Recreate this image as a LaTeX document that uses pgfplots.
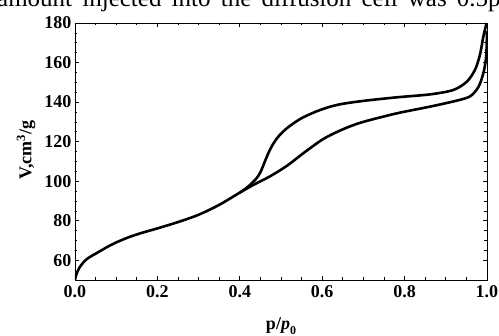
\documentclass[border=0pt]{standalone}
\usepackage{fontspec}
\setmainfont{Liberation Serif}
\usepackage{pgfplots}
\pgfplotsset{compat=1.18}
\begin{document}
\begin{tikzpicture}
\path[use as bounding box] (-75pt,-56pt) rectangle (424pt,280pt);
\clip (-75pt,-56pt) rectangle (424pt,280pt);
\node[anchor=base west, inner sep=0pt, font=\fontsize{25}{30}\selectfont] at (-78pt,273pt)
  {\makebox[491pt][s]{amount injected into the diffusion cell was 0.5}\rlap{p}};
\begin{axis}[
  scale only axis, width=412pt, height=257pt,
  at={(0pt,0pt)}, anchor=south west,
  xmin=0, xmax=1, ymin=50, ymax=180,
  xtick={0,0.2,0.4,0.6,0.8,1}, xticklabels={0.0,0.2,0.4,0.6,0.8,1.0},
  ytick={60,80,100,120,140,160,180}, yticklabels={60,80,100,120,140,160,180},
  minor x tick num=3, minor y tick num=3,
  tick align=inside, major tick length=4pt, minor tick length=2.5pt,
  axis line style={line width=0.8pt},
  tick style={line width=0.6pt, black},
  tick label style={font=\fontsize{18}{20}\selectfont\bfseries},
  xticklabel style={yshift=-2pt},
  xlabel={\bfseries p/\textit{p}\raisebox{-0.25em}{\fontsize{12}{12}\selectfont\bfseries 0}},
  xlabel style={at={(axis description cs:0.5,0)}, anchor=base, yshift=-50pt, font=\fontsize{18}{20}\selectfont},
  ylabel={\bfseries V,cm\textsuperscript{3}/g},
  ylabel style={at={(axis description cs:-0.119,0.505)}, anchor=center, font=\fontsize{18}{20}\selectfont},
]
\addplot[black, line width=2.6pt, smooth] coordinates {
(0,50) (0.003,52.6) (0.01,56) (0.02,58.8) (0.03,60.8) (0.044,62.6) (0.06,64.5) (0.08,66.9)
(0.1,69.0) (0.13,71.6) (0.16,73.7) (0.2,76.1)
(0.25,79.3) (0.3,83.0) (0.35,88.0) (0.4,94.2) (0.433,98.1) (0.473,102.4) (0.514,107.7)
(0.554,114.1) (0.595,120.3) (0.62,123.3) (0.659,127.0) (0.70,130.0) (0.781,134.3)
(0.862,137.7) (0.926,140.7) (0.959,142.9) (0.979,147.6) (0.991,154.5) (0.998,163) (1.0,176)
};
\addplot[black, line width=2.6pt, smooth] coordinates {
(0.999,180) (0.991,173) (0.983,164) (0.971,156.4) (0.951,150.3) (0.918,146.1) (0.862,143.9)
(0.781,142.4) (0.70,140.6) (0.639,138.7) (0.595,136.0) (0.554,132.3) (0.53,129.2) (0.514,126.7)
(0.50,124.0) (0.49,121.6) (0.48,118.5) (0.47,114.5) (0.46,109.5) (0.45,104.5) (0.44,101.3)
(0.42,97.2) (0.40,94.2)
};
\end{axis}
\end{tikzpicture}
\end{document}
